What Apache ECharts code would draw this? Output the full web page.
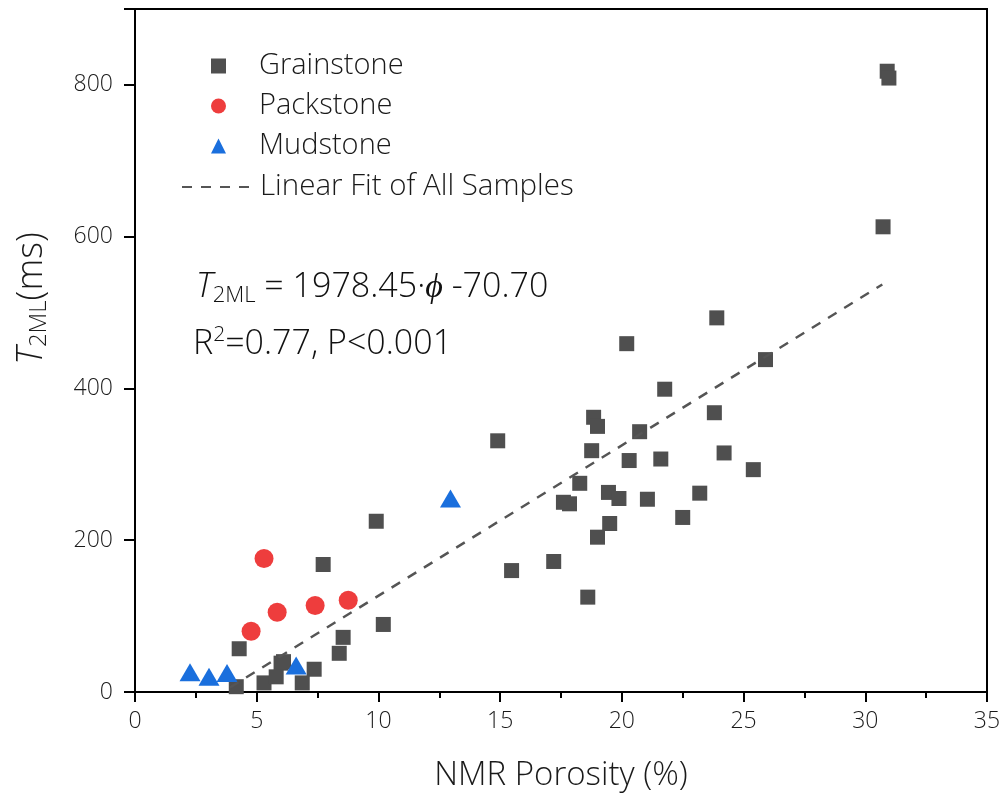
<!DOCTYPE html>
<html><head><meta charset="utf-8">
<script src="https://cdn.jsdelivr.net/npm/echarts@6/dist/echarts.min.js"></script>
<style>html,body{margin:0;padding:0;background:#fff}#c{width:1005px;height:806px}</style>
</head><body><div id="c"></div>
<script>
const grainstone = [
  [4.28,57],[4.16,7],[5.3,12],[5.8,20],[6.0,38],[6.1,40],[6.87,12],[7.36,30],[8.39,51],[8.55,72],
  [7.73,168],[10.2,89],[9.91,225],
  [23.9,493],[20.2,459],[25.9,438],[21.76,399],[18.84,362],[19.0,350],[23.8,368],[20.73,343],
  [14.9,331],[18.76,318],[24.2,315],[20.3,305],[21.6,307],[25.4,293],[18.27,275],[19.45,263],
  [19.88,255],[21.05,254],[23.2,262],[17.6,250],[17.85,248],[19.5,222],[22.5,230],[19.0,204],
  [17.2,172],[15.47,160],[18.6,125],
  [30.9,818],[30.97,809],[30.73,613]
];
const packstone = [[5.3,176],[4.77,80],[5.84,105],[7.4,114],[8.76,121]];
const mudstone = [[2.26,26],[3.04,20],[3.78,25],[6.62,35],[12.96,255]];
const fitLine = [[3.9,6],[30.7,537]];
const seriesNames = ['Grainstone','Packstone','Mudstone','Linear Fit of All Samples'];
const xTicks = [0,5,10,15,20,25,30,35];
const yTicks = [0,200,400,600,800];

const FONT = 'Open Sans';
const TXT = '#1a1a1a';
const chart = echarts.init(document.getElementById('c'));
chart.setOption({
  animation:false,
  backgroundColor:'#fff',
  textStyle:{fontFamily:FONT},
  grid:{left:135,right:18,top:9,bottom:114,show:true,borderColor:'#000',borderWidth:2},
  xAxis:{
    type:'value',min:xTicks[0],max:xTicks[xTicks.length-1],interval:5,
    name:'NMR Porosity (%)',nameLocation:'middle',nameGap:67,
    nameTextStyle:{fontSize:33,color:TXT,fontFamily:FONT,fontWeight:300},
    axisLine:{lineStyle:{color:'#000',width:2}},
    axisTick:{show:true,inside:false,length:10,lineStyle:{color:'#000',width:2}},
    minorTick:{show:true,splitNumber:2,length:6,lineStyle:{color:'#000',width:2}},
    axisLabel:{fontSize:23,color:TXT,margin:18,fontFamily:FONT,fontWeight:300},
    splitLine:{show:false}
  },
  yAxis:{
    type:'value',min:0,max:900,interval:200,
    name:'{i|T}{s|2ML}{n|(ms)}',nameLocation:'middle',nameGap:84,nameRotate:90,
    nameTextStyle:{padding:[0,0,0,104],rich:{
      i:{fontSize:36,fontStyle:'italic',color:TXT,fontFamily:FONT,fontWeight:300},
      s:{fontSize:24,color:TXT,fontFamily:FONT,fontWeight:300,padding:[14,0,0,0]},
      n:{fontSize:36,color:TXT,fontFamily:FONT,fontWeight:300}
    }},
    axisLine:{lineStyle:{color:'#000',width:2}},
    axisTick:{show:true,inside:false,length:11,lineStyle:{color:'#000',width:2}},
    axisLabel:{fontSize:23,color:TXT,margin:22,fontFamily:FONT,fontWeight:300,
      formatter:v=>yTicks.includes(v)?String(v):''},
    splitLine:{show:false}
  },
  legend:[{
    data:seriesNames.slice(0,3),orient:'vertical',left:206,top:41,
    itemWidth:15,itemHeight:15,itemGap:0,
    textStyle:{fontSize:29,color:TXT,lineHeight:40,padding:[0,0,0,28],fontFamily:FONT,fontWeight:300}
  },{
    data:[seriesNames[3]],orient:'vertical',left:176,top:162,
    itemWidth:76,itemHeight:14,itemGap:0,itemStyle:{opacity:0},
    textStyle:{fontSize:29.5,color:TXT,lineHeight:40,padding:[0,0,0,-3],fontFamily:FONT,fontWeight:300}
  }],
  graphic:[
    {type:'text',left:196,top:270,style:{
      text:'{i|T}{s|2ML}{n| = 1978.45·}{i|ϕ}{n| -70.70}',
      rich:{
        i:{fontSize:34,fontStyle:'italic',fill:'#111',fontFamily:FONT,fontWeight:300},
        s:{fontSize:22,fill:'#111',fontFamily:FONT,fontWeight:300,padding:[17,0,0,0]},
        n:{fontSize:34,fill:'#111',fontFamily:FONT,fontWeight:300}
      }}},
    {type:'text',left:193,top:325,style:{
      text:'{n|R}{p|2}{n|=0.77, P<0.001}',
      rich:{
        n:{fontSize:34,fill:'#111',fontFamily:FONT,fontWeight:300},
        p:{fontSize:21,fill:'#111',fontFamily:FONT,fontWeight:300,padding:[0,0,17,0]}
      }}}
  ],
  series:[
    {name:seriesNames[0],type:'scatter',data:grainstone,symbol:'rect',symbolSize:15,
      itemStyle:{color:'#4f4f4f',opacity:1},z:3},
    {name:seriesNames[1],type:'scatter',data:packstone,symbol:'circle',symbolSize:19,
      itemStyle:{color:'#ee3d3d',opacity:1},z:4},
    {name:seriesNames[2],type:'scatter',data:mudstone,symbol:'triangle',symbolSize:[21,18],
      itemStyle:{color:'#1a6fdd',opacity:1},z:4},
    {name:seriesNames[3],type:'line',data:fitLine,symbol:'none',
      lineStyle:{color:'#555',width:2.5,type:[10,9]},itemStyle:{color:'#555'},z:5}
  ]
});
</script></body></html>
